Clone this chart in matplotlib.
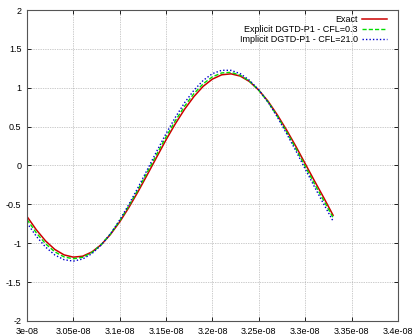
import matplotlib
matplotlib.use('Agg')
import matplotlib.pyplot as plt

# time samples (in units of 1e-8 s)
t = [3.00, 3.01, 3.02, 3.03, 3.04, 3.05, 3.06, 3.07, 3.08, 3.09, 3.10, 3.11,
     3.12, 3.13, 3.14, 3.15, 3.16, 3.17, 3.18, 3.19, 3.20, 3.21, 3.22, 3.23,
     3.24, 3.25, 3.26, 3.27, 3.28, 3.29, 3.30, 3.31, 3.32, 3.33]

exact = [-0.656, -0.826, -0.970, -1.080, -1.150, -1.179, -1.167, -1.112,
         -1.019, -0.887, -0.725, -0.537, -0.331, -0.112, 0.111, 0.332,
         0.538, 0.725, 0.887, 1.019, 1.112, 1.167, 1.179, 1.150, 1.079,
         0.968, 0.825, 0.649, 0.454, 0.244, 0.022, -0.199, -0.415, -0.640]

explicit = [-0.693, -0.865, -1.006, -1.111, -1.176, -1.200, -1.181, -1.119,
            -1.018, -0.880, -0.710, -0.516, -0.304, -0.079, 0.148, 0.369,
            0.577, 0.764, 0.925, 1.052, 1.141, 1.191, 1.198, 1.161, 1.083,
            0.967, 0.815, 0.633, 0.431, 0.215, -0.012, -0.237, -0.453, -0.670]

implicit = [-0.738, -0.910, -1.049, -1.151, -1.212, -1.230, -1.203, -1.134,
            -1.024, -0.878, -0.701, -0.498, -0.277, -0.047, 0.186, 0.411,
            0.621, 0.809, 0.968, 1.095, 1.182, 1.225, 1.224, 1.181, 1.095,
            0.972, 0.812, 0.622, 0.408, 0.186, -0.046, -0.276, -0.498, -0.715]

xticks = [3.00, 3.05, 3.10, 3.15, 3.20, 3.25, 3.30, 3.35, 3.40]
xlabels = ['3e-08', '3.05e-08', '3.1e-08', '3.15e-08', '3.2e-08',
           '3.25e-08', '3.3e-08', '3.35e-08', '3.4e-08']
yticks = [-2, -1.5, -1, -0.5, 0, 0.5, 1, 1.5, 2]
ylabels = ['-2', '-1.5', '-1', '-0.5', '0', '0.5', '1', '1.5', '2']

plt.rcParams['font.family'] = ['Liberation Sans', 'DejaVu Sans']

fig = plt.figure(figsize=(4.12, 3.34), dpi=100)
ax = fig.add_axes([0.0655, 0.039, 0.9005, 0.931])

ax.plot(t, exact, color='#cc0000', lw=1.1, label='Exact')
ax.plot(t, explicit, color='#00dd00', lw=1.0, ls=(0, (3, 1.5)),
        label='Explicit DGTD-P1 - CFL=0.3')
ax.plot(t, implicit, color='#0000cc', lw=1.0, ls=(0, (1, 1.5)),
        label='Implicit DGTD-P1 - CFL=21.0')

ax.set_xlim(3.0, 3.4)
ax.set_ylim(-2, 2)
ax.set_xticks(xticks)
ax.set_xticklabels(xlabels)
ax.set_yticks(yticks)
ax.set_yticklabels(ylabels)
ax.tick_params(direction='in', top=True, right=True, labelsize=6.5,
               length=3, width=0.6)
ax.tick_params(axis='x', pad=4)
ax.tick_params(axis='y', pad=4)
ax.grid(True, color='#999999', ls=(0, (1, 1.5)), lw=0.5)
for s in ax.spines.values():
    s.set_color('#555555')
    s.set_linewidth(0.8)

leg = ax.legend(loc='upper right', bbox_to_anchor=(0.970, 0.983),
                frameon=False, markerfirst=False, fontsize=6.5,
                handlelength=2.7, handletextpad=0.5, labelspacing=0.12,
                borderaxespad=0, borderpad=0)
for txt in leg.get_texts():
    txt.set_ha('right')
leg._legend_box.align = 'right'

fig.savefig('out.png', dpi=100)
